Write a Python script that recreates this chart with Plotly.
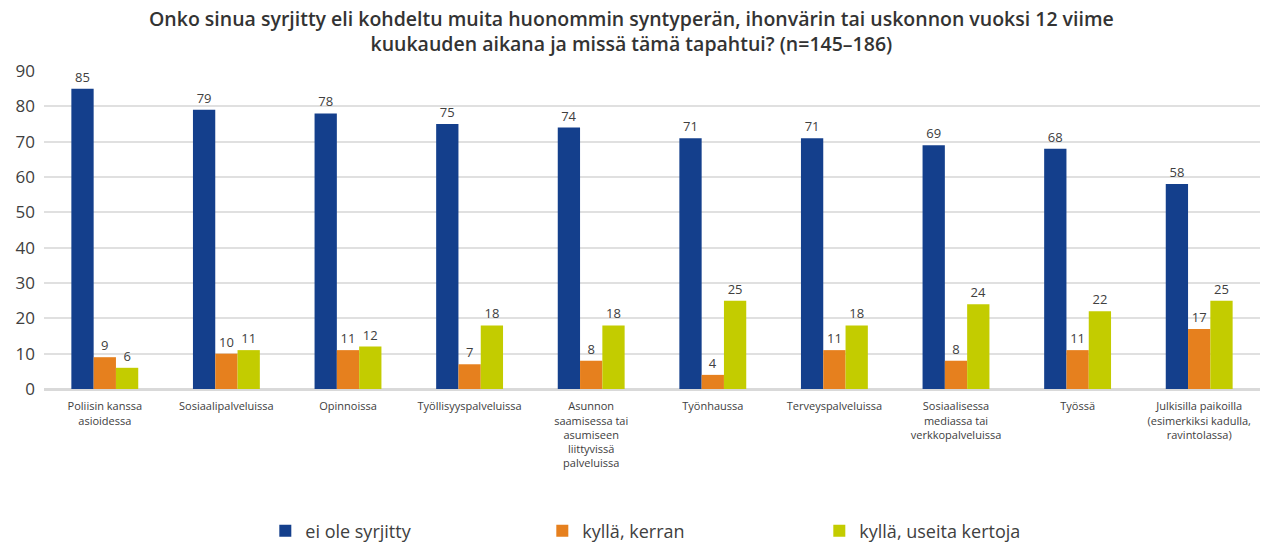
import plotly.graph_objects as go

categories = [
    "Poliisin kanssa<br>asioidessa",
    "Sosiaalipalveluissa",
    "Opinnoissa",
    "Työllisyyspalveluissa",
    "Asunnon<br>saamisessa tai<br>asumiseen<br>liittyvissä<br>palveluissa",
    "Työnhaussa",
    "Terveyspalveluissa",
    "Sosiaalisessa<br>mediassa tai<br>verkkopalveluissa",
    "Työssä",
    "Julkisilla paikoilla<br>(esimerkiksi kadulla,<br>ravintolassa)",
]
ei_ole = [85, 79, 78, 75, 74, 71, 71, 69, 68, 58]
kerran = [9, 10, 11, 7, 8, 4, 11, 8, 11, 17]
useita = [6, 11, 12, 18, 18, 25, 18, 24, 22, 25]

series = [
    ("ei ole syrjitty", ei_ole, "#143F8C"),
    ("kyllä, kerran", kerran, "#E6801E"),
    ("kyllä, useita kertoja", useita, "#C3CC00"),
]

title_text = ("Onko sinua syrjitty eli kohdeltu muita huonommin syntyperän, ihonvärin tai uskonnon vuoksi 12 viime"
              "<br>kuukauden aikana ja missä tämä tapahtui? (n=145–186)")

font_family = "'Open Sans', 'Noto Sans', sans-serif"

fig = go.Figure()
for name, vals, color in series:
    fig.add_trace(go.Bar(
        name=name,
        x=categories,
        y=vals,
        marker=dict(color=color, line=dict(width=0)),
        text=[str(v) for v in vals],
        textposition="outside",
        textfont=dict(size=13, color="#404040", family=font_family),
        cliponaxis=False,
    ))

# Two-line heading above the plot area
fig.add_annotation(
    text=title_text,
    xref="paper", yref="paper",
    x=(631 - 44) / 1216, xanchor="center",
    y=1 + (71 - 31) / 318, yanchor="middle",
    showarrow=False,
    align="center",
    font=dict(size=19.5, color="#333333", family=font_family, weight=600),
)

fig.update_layout(
    width=1262,
    height=544,
    barmode="group",
    bargap=0.45,
    bargroupgap=0,
    plot_bgcolor="white",
    paper_bgcolor="white",
    font=dict(family=font_family, color="#404040"),
    margin=dict(l=44, r=2, t=71, b=155, autoexpand=False),
    legend=dict(
        orientation="h",
        x=0.182, xanchor="left",
        y=-0.447, yanchor="middle",
        entrywidth=232,
        font=dict(size=18, color="#404040"),
        itemwidth=30,
    ),
)
fig.update_xaxes(
    tickfont=dict(size=11, color="#404040"),
    showline=True, linecolor="#D9D9D9", linewidth=2,
    ticks="",
    ticklabelstandoff=6,
    automargin=False,
)
fig.update_yaxes(
    range=[0, 90],
    dtick=10,
    showgrid=True, gridcolor="#E0E0E0", gridwidth=2,
    zeroline=True, zerolinecolor="#D9D9D9", zerolinewidth=2,
    tickfont=dict(size=17, color="#404040"),
    ticks="",
    ticklabelstandoff=8,
    automargin=False,
)

fig.write_html("out.html")
